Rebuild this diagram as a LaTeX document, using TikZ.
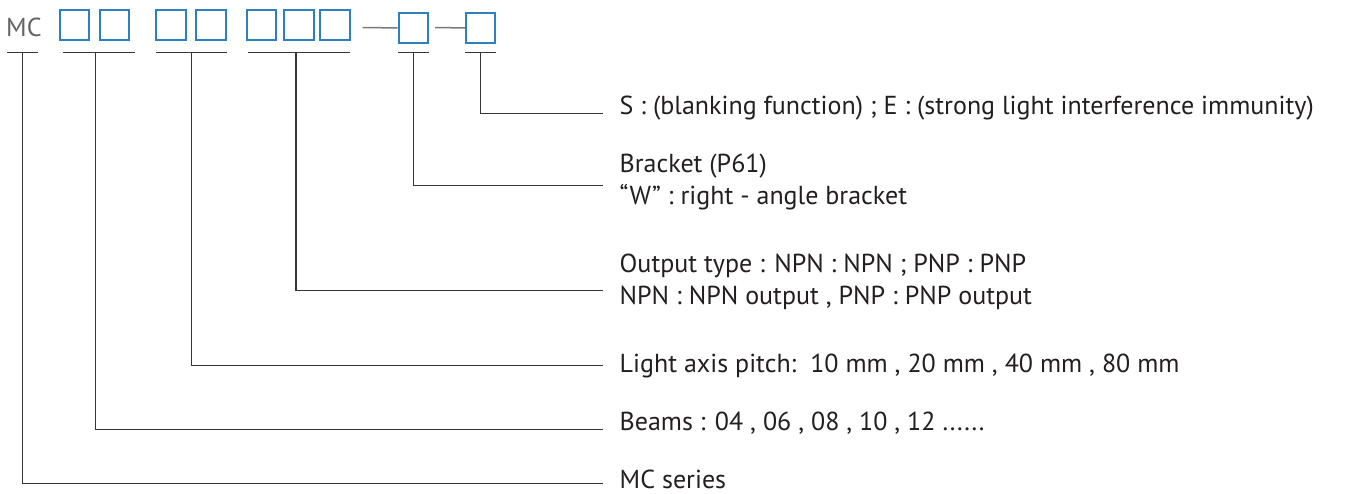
\documentclass[tikz,border=0pt]{standalone}
\usepackage{fontspec}
\setmainfont{PT Sans}
\usetikzlibrary{calc}
\definecolor{slotblue}{HTML}{2E7FC2}
\definecolor{ink}{HTML}{231F20}
\tikzset{
  slot/.style={draw=slotblue, line width=2pt, minimum size=29.5pt, inner sep=0pt},
  lead/.style={draw=ink!90, line width=1.3pt},
  dashline/.style={draw=ink!60, line width=1.5pt},
  desc/.style={anchor=base west, inner sep=0pt, text=ink, font=\fontsize{26}{30}\selectfont},
}

\begin{document}
\begin{tikzpicture}[x=1pt,y=-1pt]
\useasboundingbox (0,0) rectangle (1348,494);

% code: MC and the slots
\node[anchor=base west, inner sep=0pt, text=ink!70, font=\fontsize{26}{30}\selectfont] (mc) at (6,37) {MC};
\node[slot] (s1) at (74.3,25) {};
\node[slot] (s2) at (114.3,25) {};
\node[slot] (s3) at (171,25) {};
\node[slot] (s4) at (211,25) {};
\node[slot] (s5) at (261.6,25) {};
\node[slot] (s6) at (299,25) {};
\node[slot] (s7) at (335,25) {};
\node[slot] (s8) at (413.3,27.8) {};
\node[slot] (s9) at (480.6,27.8) {};
\coordinate (d1a) at (362.7,27.7);
\coordinate (d2a) at (435,27.7);
\draw[dashline] (d1a) -- (s8.west);
\draw[dashline] (d2a) -- (s9.west);

% underlines
\coordinate (u0a) at (7.3,52.3);   \coordinate (u0b) at (37.7,52.3);
\coordinate (u1a) at (62.7,52.3);  \coordinate (u1b) at (134.7,52.3);
\coordinate (u2a) at (156,52.3);   \coordinate (u2b) at (226.7,52.3);
\coordinate (u3a) at (248.3,52.3); \coordinate (u3b) at (350,52.3);
\coordinate (u4a) at (398.3,52.3); \coordinate (u4b) at (429,52.3);
\coordinate (u5a) at (465,52.3);   \coordinate (u5b) at (496,52.3);
\foreach \i in {0,...,5}
  \draw[lead] (u\i a) -- (u\i b);

% descriptions
\node[desc] (blank) at (619.5,115) {S : (blanking function) ; E : (strong light interference immunity)};
\node[desc] (brk) at (619.5,172.7) {Bracket (P61)};
\node[desc] (brkw) at (619.5,205) {“W” : right - angle bracket};
\node[desc] (out) at (619.5,272.7) {Output type : NPN : NPN ; PNP : PNP};
\node[desc] (outn) at (619.5,304) {NPN : NPN output , PNP : PNP output};
\node[desc] (pitch) at (619.5,372.7) {Light axis pitch:\ \ 10 mm , 20 mm , 40 mm , 80 mm};
\node[desc] (beams) at (619.5,430) {Beams : 04 , 06 , 08 , 10 , 12 ......};
\node[desc] (series) at (619.5,488) {MC series};

% leaders
\coordinate (e5) at (603,113.3);
\coordinate (e4) at (603,185.7);
\coordinate (e3) at (603,290.7);
\coordinate (e2) at (603,365.7);
\coordinate (e1) at (603,429.3);
\coordinate (e0) at (603,483.3);
\draw[lead] ($(u0a)!0.5!(u0b)$) |- (e0);
\draw[lead] ($(u1a)!0.46!(u1b)$) |- (e1);
\draw[lead] ($(u2a)!0.5!(u2b)$) |- (e2);
\draw[lead] ($(u3a)!0.47!(u3b)$) |- (e3);
\draw[lead] ($(u4a)!0.5!(u4b)$) |- (e4);
\draw[lead] ($(u5a)!0.5!(u5b)$) |- (e5);
\end{tikzpicture}
\end{document}
